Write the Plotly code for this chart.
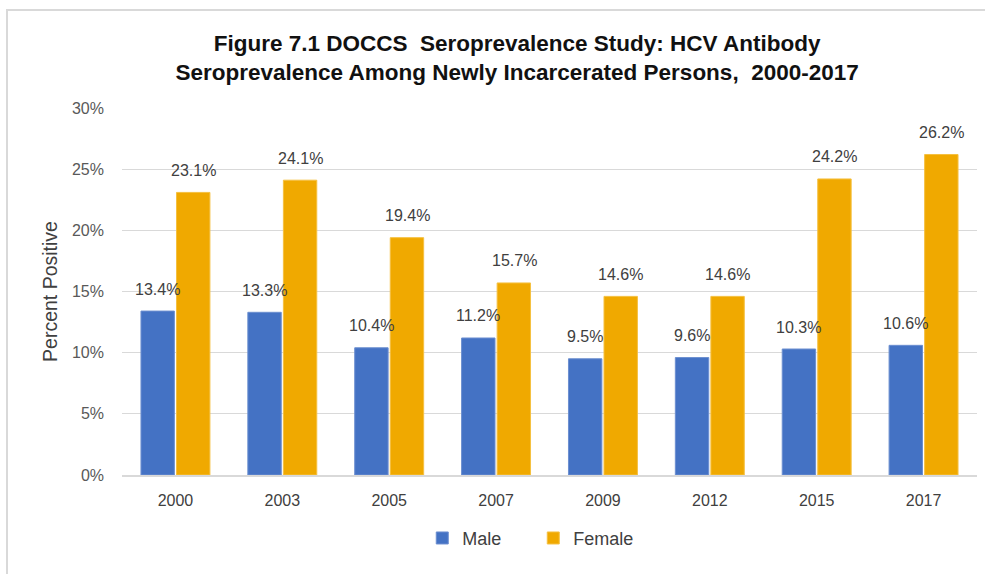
import plotly.graph_objects as go

years = ["2000", "2003", "2005", "2007", "2009", "2012", "2015", "2017"]
male = [13.4, 13.3, 10.4, 11.2, 9.5, 9.6, 10.3, 10.6]
female = [23.1, 24.1, 19.4, 15.7, 14.6, 14.6, 24.2, 26.2]
y_ticks = [0, 5, 10, 15, 20, 25, 30]
y_tick_labels = ["0%", "5%", "10%", "15%", "20%", "25%", "30%"]

BLUE = "#4472C4"
GOLD = "#F0A900"
TXT = "#404040"
LBL = "Liberation Sans, Arial, sans-serif"

fig = go.Figure()
fig.add_trace(go.Bar(x=years, y=male, name="Male", marker=dict(color=BLUE, line=dict(color="#6C8FD0", width=1))))
fig.add_trace(go.Bar(x=years, y=female, name="Female", marker=dict(color=GOLD, line=dict(color="#F5C040", width=1))))

annotations = []
for i, (m, f) in enumerate(zip(male, female)):
    annotations.append(dict(x=i, y=m, xref="x", yref="y", text=f"{m:.1f}%", showarrow=False,
                            xshift=-18, yshift=22, font=dict(family=LBL, size=16, color=TXT)))
    annotations.append(dict(x=i, y=f, xref="x", yref="y", text=f"{f:.1f}%", showarrow=False,
                            xshift=18, yshift=22, font=dict(family=LBL, size=16, color=TXT)))

fig.update_layout(
    width=985, height=574,
    margin=dict(l=122, r=8, t=108, b=99),
    paper_bgcolor="white", plot_bgcolor="white",
    barmode="group", bargap=0.335, bargroupgap=0.06,
    title=dict(text="<b>Figure 7.1 DOCCS  Seroprevalence Study: HCV Antibody<br>Seroprevalence Among Newly Incarcerated Persons,  2000-2017</b>",
               x=0.525, xanchor="center", y=0.911, yanchor="top",
               font=dict(family="Liberation Sans Narrow, Arial Narrow, Liberation Sans, sans-serif", size=22.5, color="#111111")),
    xaxis=dict(type="category", showgrid=False, showline=True, linecolor="#D9D9D9", linewidth=1.5,
               ticks="", tickfont=dict(family=LBL, size=16, color=TXT), automargin=False,
               ticklabelstandoff=10),
    yaxis=dict(range=[0, 30], tickvals=y_ticks, ticktext=y_tick_labels, showgrid=True,
               gridcolor="#D9D9D9", gridwidth=1.2, zeroline=False, showline=False,
               tickfont=dict(family=LBL, size=16, color="#595959"), ticklen=0, automargin=False,
               ticklabelstandoff=17,
               title=dict(text="Percent Positive", font=dict(family=LBL, size=19.5, color=TXT), standoff=9)),
    legend=dict(orientation="h", x=0.481, xanchor="center", y=-0.122, yanchor="top",
                font=dict(family=LBL, size=18, color=TXT), itemwidth=30,
                entrywidth=66, entrywidthmode="pixels"),
    annotations=annotations,
    shapes=[dict(type="rect", xref="paper", yref="paper", x0=-0.1345, x1=1.1, y0=-0.5, y1=1.267,
                 line=dict(color="#D9D9D9", width=2), fillcolor="rgba(0,0,0,0)")],
)

fig.write_html("out.html", config={"displayModeBar": False},
               post_script="document.body.style.margin='0';document.body.style.overflow='hidden';")
